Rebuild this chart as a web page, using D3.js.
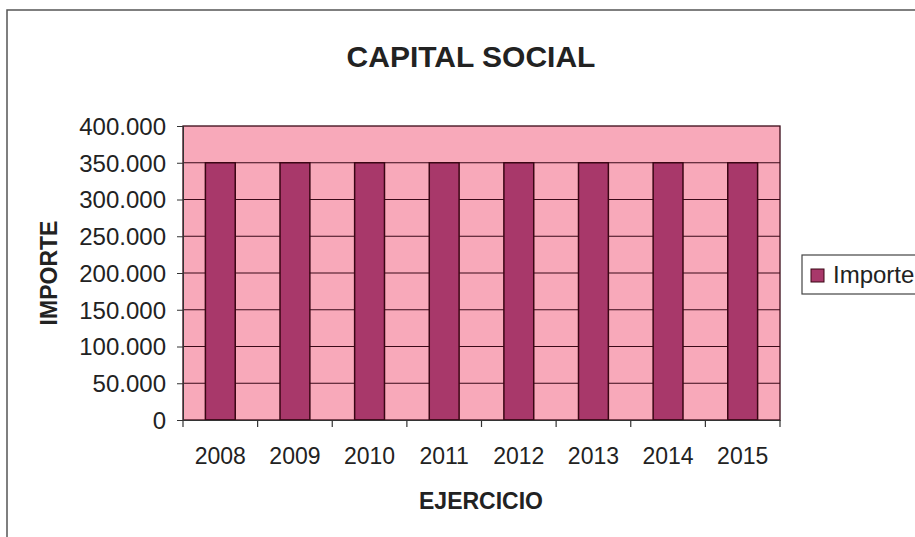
<!DOCTYPE html>
<html>
<head>
<meta charset="utf-8">
<script src="https://cdn.jsdelivr.net/npm/d3@7/dist/d3.min.js"></script>
<style>
  html, body { margin: 0; padding: 0; background: #fff; }
  svg { display: block; font-family: "Liberation Sans", Arial, sans-serif; }
</style>
</head>
<body>
<svg id="chart" width="915" height="537"></svg>
<script>
// Capital social por ejercicio
const years = ["2008", "2009", "2010", "2011", "2012", "2013", "2014", "2015"];
const importe = [350000, 350000, 350000, 350000, 350000, 350000, 350000, 350000];
const yTicks = [0, 50000, 100000, 150000, 200000, 250000, 300000, 350000, 400000];
const seriesName = "Importe";

const svg = d3.select("#chart");
const W = 915, H = 537;
const plot = { left: 183, right: 780, top: 126, bottom: 420 };
const FONT = "\"Liberation Sans\", Arial, sans-serif";

// outer chart frame
svg.append("rect")
  .attr("x", 7).attr("y", 10).attr("width", W + 10).attr("height", H + 10)
  .attr("fill", "#fff").attr("stroke", "#555").attr("stroke-width", 1.5);

const x = d3.scaleBand().domain(years).range([plot.left, plot.right]).paddingInner(0.6).paddingOuter(0.3);
const xEdges = d3.scaleLinear().domain([0, years.length]).range([plot.left, plot.right]);
const y = d3.scaleLinear().domain([0, 400000]).range([plot.bottom, plot.top]);

const fmt = v => d3.format(",")(v).replace(/,/g, ".");

// plot background
svg.append("rect")
  .attr("x", plot.left).attr("y", plot.top)
  .attr("width", plot.right - plot.left).attr("height", plot.bottom - plot.top)
  .attr("fill", "#f8a9ba");

// gridlines
svg.append("g").selectAll("line").data(yTicks.filter(d => d > 0 && d < 400000)).join("line")
  .attr("x1", plot.left).attr("x2", plot.right)
  .attr("y1", d => y(d)).attr("y2", d => y(d))
  .attr("stroke", "#3a0a18").attr("stroke-width", 1.2);

// bars
svg.append("g").selectAll("rect").data(years).join("rect")
  .attr("x", d => x(d))
  .attr("y", (d, i) => y(importe[i]))
  .attr("width", x.bandwidth())
  .attr("height", (d, i) => y(0) - y(importe[i]))
  .attr("fill", "#a8386a")
  .attr("stroke", "#3a0614").attr("stroke-width", 1.5);

// plot border
svg.append("rect")
  .attr("x", plot.left).attr("y", plot.top)
  .attr("width", plot.right - plot.left).attr("height", plot.bottom - plot.top)
  .attr("fill", "none").attr("stroke", "#3a0a18").attr("stroke-width", 1.3);

// y axis
const yAxis = svg.append("g")
  .attr("transform", `translate(${plot.left},0)`)
  .call(d3.axisLeft(y).tickValues(yTicks).tickFormat(fmt).tickSize(6).tickPadding(11));
yAxis.select(".domain").attr("stroke", "#333");
yAxis.selectAll(".tick line").attr("stroke", "#333");
yAxis.selectAll(".tick text").attr("font-size", 24).attr("fill", "#222")
  .attr("font-family", FONT).attr("dy", "0.35em");

// x axis: category labels centred in each band, ticks on boundaries
const xAxis = svg.append("g")
  .attr("transform", `translate(0,${plot.bottom})`)
  .call(d3.axisBottom(x).tickSize(0).tickPadding(28));
xAxis.select(".domain").attr("stroke", "#333");
xAxis.selectAll(".tick text").attr("font-size", 23).attr("fill", "#222")
  .attr("font-family", FONT);
svg.append("g").selectAll("line").data(d3.range(years.length + 1)).join("line")
  .attr("x1", d => xEdges(d)).attr("x2", d => xEdges(d))
  .attr("y1", plot.bottom).attr("y2", plot.bottom + 7)
  .attr("stroke", "#333").attr("stroke-width", 1.2);

// title
svg.append("text").attr("x", 471).attr("y", 67).attr("text-anchor", "middle")
  .attr("font-size", 30).attr("font-weight", "bold").attr("fill", "#222")
  .text("CAPITAL SOCIAL");

// axis titles
svg.append("text").attr("x", 481).attr("y", 509).attr("text-anchor", "middle")
  .attr("font-size", 23).attr("font-weight", "bold").attr("fill", "#222")
  .text("EJERCICIO");
svg.append("text")
  .attr("transform", `translate(57,${(plot.top + plot.bottom) / 2}) rotate(-90)`)
  .attr("text-anchor", "middle")
  .attr("font-size", 23).attr("font-weight", "bold").attr("fill", "#222")
  .text("IMPORTE");

// legend
const lg = svg.append("g").attr("transform", "translate(802,255)");
lg.append("rect").attr("x", 0).attr("y", 0).attr("width", 130).attr("height", 39)
  .attr("fill", "#fff").attr("stroke", "#444").attr("stroke-width", 1.2);
lg.append("rect").attr("x", 9).attr("y", 14).attr("width", 13).attr("height", 13)
  .attr("fill", "#a8386a").attr("stroke", "#3a0614").attr("stroke-width", 1);
lg.append("text").attr("x", 31).attr("y", 28).attr("font-size", 24).attr("fill", "#222")
  .text(seriesName);
</script>
</body>
</html>
